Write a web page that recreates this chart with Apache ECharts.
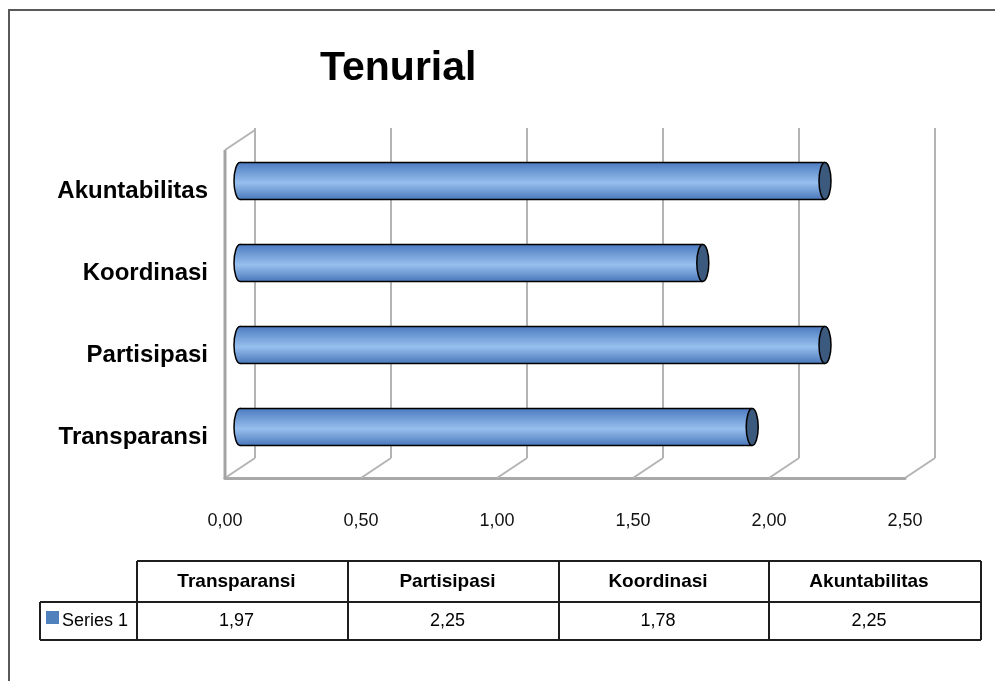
<!DOCTYPE html>
<html>
<head>
<meta charset="utf-8">
<title>Tenurial</title>
<script src="https://cdn.jsdelivr.net/npm/echarts@6/dist/echarts.min.js"></script>
<style>
  html, body { margin: 0; padding: 0; background: #fff; }
  #main { width: 995px; height: 681px; }
</style>
</head>
<body>
<div id="main"></div>
<script>
// data
var categories = ['Transparansi', 'Partisipasi', 'Koordinasi', 'Akuntabilitas'];
var seriesName = 'Series 1';
var values = [1.97, 2.25, 1.78, 2.25];
var ticks = [0, 0.5, 1, 1.5, 2, 2.5];

var FONT = '"Liberation Sans", Arial, Helvetica, sans-serif';
var DEPTH = [30, -20];   // shift from front plane to back wall
var GRID_LINE = '#b4b4b4';

function fmt(v) { return v.toFixed(2).replace('.', ','); }

var chart = echarts.init(document.getElementById('main'));

// cylinder bar
function renderCylinder(params, api) {
  var start = api.coord([0, api.value(1)]);
  var end = api.coord([api.value(0), api.value(1)]);
  var h = api.size([0, 1])[1] * 0.45;
  var top = start[1] - h / 2, rx = 6;
  var body = new echarts.graphic.LinearGradient(0, 0, 0, 1, [
    { offset: 0, color: '#4c7bc0' },
    { offset: 0.55, color: '#97bfee' },
    { offset: 1, color: '#4a78ba' }
  ]);
  return {
    type: 'group',
    children: [
      { type: 'ellipse', shape: { cx: start[0], cy: start[1], rx: rx, ry: h / 2 },
        style: { fill: body, stroke: '#000', lineWidth: 1.5 } },
      { type: 'rect', shape: { x: start[0], y: top, width: end[0] - start[0], height: h },
        style: { fill: body } },
      { type: 'line', shape: { x1: start[0], y1: top, x2: end[0], y2: top },
        style: { stroke: '#000', lineWidth: 1.5 } },
      { type: 'line', shape: { x1: start[0], y1: top + h, x2: end[0], y2: top + h },
        style: { stroke: '#000', lineWidth: 1.5 } },
      { type: 'ellipse', shape: { cx: end[0], cy: end[1], rx: rx, ry: h / 2 },
        style: { fill: '#3b5a7e', stroke: '#000', lineWidth: 1.5 } }
    ]
  };
}

// walls and floor of the 3D frame
function renderFrame(params, api) {
  var b = api.coord([api.value(0), 0]);
  var t = api.coord([api.value(0), 1]);
  var bb = [b[0] + DEPTH[0], b[1] + DEPTH[1]];
  var tb = [t[0] + DEPTH[0], t[1] + DEPTH[1]];
  var kids = [
    { type: 'line', shape: { x1: b[0], y1: b[1], x2: bb[0], y2: bb[1] },
      style: { stroke: GRID_LINE, lineWidth: 2 } },
    { type: 'line', shape: { x1: bb[0], y1: bb[1], x2: tb[0], y2: tb[1] - 2 },
      style: { stroke: GRID_LINE, lineWidth: 2 } }
  ];
  if (params.dataIndex === 0) {
    kids.push({ type: 'line', shape: { x1: b[0], y1: b[1] + 1, x2: t[0], y2: t[1] },
      style: { stroke: '#a4a4a4', lineWidth: 3 } });
    kids.push({ type: 'line', shape: { x1: t[0], y1: t[1], x2: tb[0], y2: tb[1] },
      style: { stroke: GRID_LINE, lineWidth: 2 } });
  }
  return { type: 'group', children: kids };
}

// data table below the chart
var colX = [137, 348, 559, 769, 981];
var rowY = [561, 602, 640];
var keyX = 40;
var table = [];
function tline(x1, y1, x2, y2) {
  table.push({ type: 'line', shape: { x1: x1, y1: y1, x2: x2, y2: y2 },
    style: { stroke: '#1e1e1e', lineWidth: 2 } });
}
tline(colX[0], rowY[0], colX[4], rowY[0]);
tline(keyX, rowY[1], colX[4], rowY[1]);
tline(keyX, rowY[2], colX[4], rowY[2]);
tline(keyX, rowY[1], keyX, rowY[2]);
colX.forEach(function (x) { tline(x, rowY[0], x, rowY[2]); });
categories.forEach(function (c, i) {
  var cx = (colX[i] + colX[i + 1]) / 2 - 6;
  table.push({ type: 'text', x: cx, y: (rowY[0] + rowY[1]) / 2,
    style: { text: c, font: 'bold 19px ' + FONT, fill: '#000', align: 'center', verticalAlign: 'middle' } });
  table.push({ type: 'text', x: cx, y: (rowY[1] + rowY[2]) / 2,
    style: { text: fmt(values[i]), font: '18px ' + FONT, fill: '#000', align: 'center', verticalAlign: 'middle' } });
});
table.push({ type: 'rect', shape: { x: 46, y: 611, width: 13, height: 13 }, style: { fill: '#4f81bd' } });
table.push({ type: 'text', x: 62, y: (rowY[1] + rowY[2]) / 2,
  style: { text: seriesName, font: '18px ' + FONT, fill: '#000', align: 'left', verticalAlign: 'middle' } });
// outer border
table.push({ type: 'polyline', shape: { points: [[9, 681], [9, 10], [995, 10]] },
  style: { stroke: '#595959', lineWidth: 2, fill: null } });

var option = {
  backgroundColor: '#fff',
  animation: false,
  title: {
    text: 'Tenurial',
    left: 315,
    top: 43,
    textStyle: { fontFamily: FONT, fontSize: 41, fontWeight: 'bold', color: '#000' }
  },
  grid: [
    { left: 240, top: 140, width: 650, height: 328 },   // bars
    { left: 225, top: 150, width: 680, height: 328 }    // front plane / floor
  ],
  xAxis: [
    { gridIndex: 0, type: 'value', min: 0, max: 2.5, show: false },
    {
      gridIndex: 1, type: 'value', min: 0, max: 2.5, interval: 0.5,
      axisLine: { show: true, lineStyle: { color: '#a8a8a8', width: 3 } },
      axisTick: { show: false },
      splitLine: { show: false },
      axisLabel: { margin: 34, color: '#111', fontFamily: FONT, fontSize: 18, formatter: fmt }
    }
  ],
  yAxis: [
    { gridIndex: 0, type: 'category', data: categories, show: false },
    { gridIndex: 1, type: 'value', min: 0, max: 1, show: false },
    {
      gridIndex: 1, type: 'category', data: categories, position: 'left',
      axisLine: { show: false }, axisTick: { show: false }, splitLine: { show: false },
      axisLabel: { margin: 17, color: '#000', fontFamily: FONT, fontSize: 24, fontWeight: 'bold' }
    }
  ],
  series: [
    {
      name: 'frame', type: 'custom', xAxisIndex: 1, yAxisIndex: 1, z: 1,
      silent: true,
      data: ticks.map(function (t) { return [t]; }),
      renderItem: renderFrame
    },
    {
      name: seriesName, type: 'custom', xAxisIndex: 0, yAxisIndex: 0, z: 3,
      data: values.map(function (v, i) { return [v, i]; }),
      encode: { x: 0, y: 1 },
      renderItem: renderCylinder
    }
  ],
  graphic: table
};

chart.setOption(option);
</script>
</body>
</html>
